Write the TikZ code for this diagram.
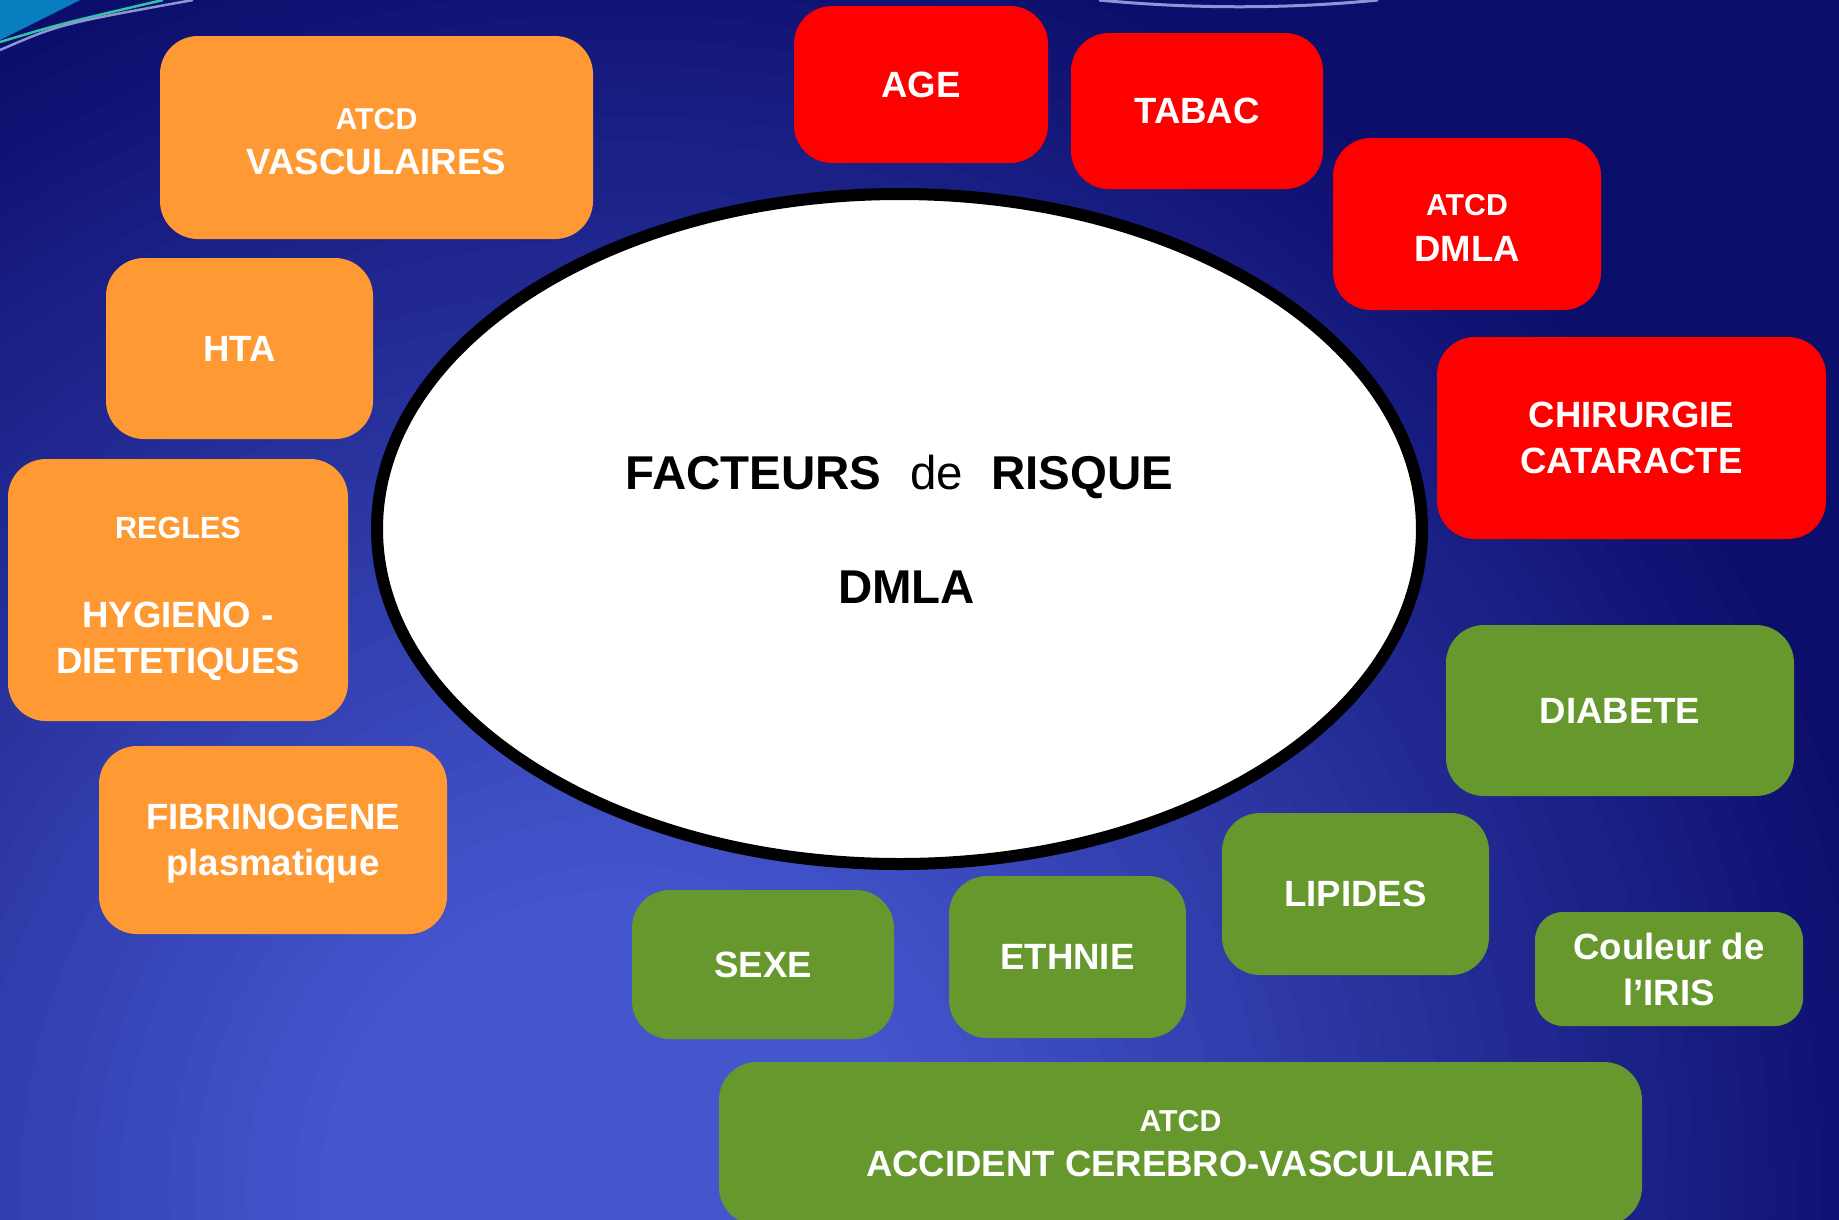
\documentclass[tikz,border=0pt]{standalone}
\usepackage{fontspec}
\setmainfont{Liberation Sans}
\usetikzlibrary{shapes.geometric}
\definecolor{bgLight}{HTML}{4456CE}
\definecolor{bgDark}{HTML}{0C0E6C}
\definecolor{fOrange}{HTML}{FF9933}
\definecolor{fRed}{HTML}{FF0000}
\definecolor{fGreen}{HTML}{66982D}
\definecolor{decoBlue}{HTML}{0A7FC0}
\definecolor{decoGreen}{HTML}{2FC7A2}
\definecolor{decoLilac}{HTML}{8C96D6}

\begin{document}
\begin{tikzpicture}[x=0.1mm, y=-0.1mm,
    facteur/.style={rounded corners=3.8mm, text=white, align=center, inner sep=0pt,
      text depth=0pt, font=\bfseries\fontsize{10.4}{13}\selectfont},
    sz/.style 2 args={minimum width=#1*0.1mm, minimum height=#2*0.1mm}]
  \useasboundingbox (0,0) rectangle (1839,1219);
  \clip (0,0) rectangle (1839,1219);
  % background glow
  \fill[bgDark] (0,0) rectangle (1839,1219);
  \foreach \i in {52,...,1} {
    \pgfmathsetmacro\p{min(100,(1300-\i*25)/10)}
    \fill[bgLight!\p!bgDark] (620,1190) circle[radius=\i*25];
  }
  \fill[decoBlue] (0,0) -- (80,0) -- (0,40) -- cycle;
  \foreach \c/\y/\e in {decoGreen/42/163, decoLilac/50/193}
    \draw[\c, line width=0.25mm] (0,\y) .. controls (60,24) .. (\e,0);
  \draw[decoLilac, line width=0.3mm] (1099,0) .. controls (1190,9) and (1290,9) .. (1378,0);

  % centre
  \node[ellipse, draw=black, fill=white, line width=1.2mm, inner sep=0pt,
    minimum width=104.5mm, minimum height=67mm, align=center,
    font=\bfseries\fontsize{13.5}{16}\selectfont] (centre) at (899.5,529)
    {FACTEURS\hspace{0.6em}{\mdseries de}\hspace{0.6em}RISQUE\\[16.4pt]\hspace*{4pt}DMLA};

  % orange
  \node[facteur, fill=fOrange, sz={433}{203}] (vasc) at (376.5,137.5) {\rule{0pt}{8.2pt}{\fontsize{8.6}{12}\selectfont ATCD}\\[0pt]VASCULAIRES};
  \node[facteur, fill=fOrange, sz={267}{181}] (hta) at (239.5,348.5) {HTA};
  \node[facteur, fill=fOrange, sz={340}{262}] (regles) at (178,590) {\rule{0pt}{9pt}{\fontsize{8.7}{13}\selectfont REGLES}\\[12.3pt]HYGIENO -\\DIETETIQUES};
  \node[facteur, fill=fOrange, sz={348}{188}] (fibrino) at (273,840) {FIBRINOGENE\\plasmatique};
  % red
  \node[facteur, fill=fRed, sz={254}{157}] (age) at (921,84.5) {AGE};
  \node[facteur, fill=fRed, sz={252}{156}] (tabac) at (1197,111) {TABAC};
  \node[facteur, fill=fRed, sz={268}{172}] (atcddmla) at (1467,224) {\rule{0pt}{8.2pt}{\fontsize{8.6}{12}\selectfont ATCD}\\[0pt]DMLA};
  \node[facteur, fill=fRed, sz={389}{202}] (cataracte) at (1631.5,438) {CHIRURGIE\\CATARACTE};
  % green
  \node[facteur, fill=fGreen, sz={348}{171}] (diabete) at (1620,710.5) {DIABETE};
  \node[facteur, fill=fGreen, sz={267}{162}] (lipides) at (1355.5,894) {LIPIDES};
  \node[facteur, fill=fGreen, sz={268}{114}, rounded corners=2.8mm] (iris) at (1669,969) {Couleur de\\l’IRIS};
  \node[facteur, fill=fGreen, sz={237}{162}] (ethnie) at (1067.5,957) {ETHNIE};
  \node[facteur, fill=fGreen, sz={262}{149}] (sexe) at (763,964.5) {SEXE};
  \node[facteur, fill=fGreen, sz={923}{163}] (avc) at (1180.5,1143.5) {{\fontsize{8.6}{12}\selectfont ATCD}\\[0pt]ACCIDENT CEREBRO-VASCULAIRE};
\end{tikzpicture}
\end{document}
